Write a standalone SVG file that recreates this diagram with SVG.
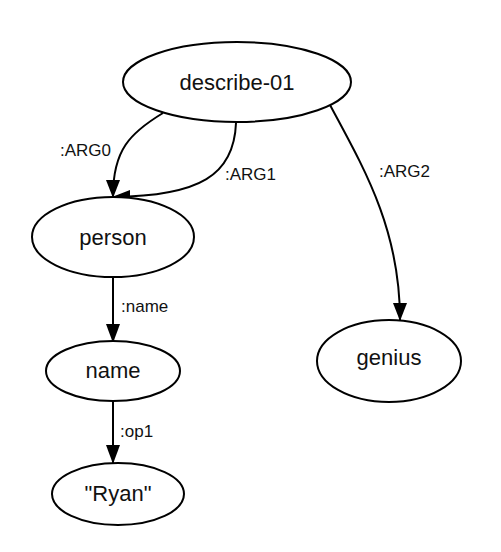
<svg xmlns="http://www.w3.org/2000/svg" width="501" height="552" viewBox="0 0 501 552">
<style>
.node ellipse{fill:#fff;stroke:#000;stroke-width:2}
.node text{font-family:"Liberation Sans",Arial,sans-serif;font-size:22px;fill:#111;text-anchor:middle}
.edges path{fill:none;stroke:#000;stroke-width:2}
.edges polygon{fill:#000}
.lbl{font-family:"Liberation Sans",Arial,sans-serif;font-size:17px;fill:#111}
</style>
<rect width="501" height="552" fill="#fff"/>
<g class="edges">
<path d="M163,113 C130,133 113,150 113,196"/>
<path d="M236,123 C234,175 200,196 113,197"/>
<path d="M330,105 C365,170 400,230 400,320"/>
<path d="M113,278 L113,342"/>
<path d="M113,401 L113,463"/>
<polygon points="113,198 106,180 120,180"/>
<polygon points="112,197 130,190 130,204"/>
<polygon points="400,321 393,303 407,303"/>
<polygon points="113,343 106,324 120,324"/>
<polygon points="113,464 106,445 120,445"/>
<text class="lbl" x="60" y="156">:ARG0</text>
<text class="lbl" x="225" y="180">:ARG1</text>
<text class="lbl" x="379" y="177">:ARG2</text>
<text class="lbl" x="121" y="312">:name</text>
<text class="lbl" x="120" y="437">:op1</text>
</g>
<g id="describe-01" class="node"><ellipse cx="237" cy="82" rx="114" ry="40"/><text x="237" y="90">describe-01</text></g>
<g id="person" class="node"><ellipse cx="113" cy="237" rx="81" ry="40"/><text x="113" y="245">person</text></g>
<g id="genius" class="node"><ellipse cx="389" cy="361" rx="72" ry="41"/><text x="389" y="365">genius</text></g>
<g id="name" class="node"><ellipse cx="113" cy="371" rx="67" ry="30"/><text x="113" y="378">name</text></g>
<g id="ryan" class="node"><ellipse cx="118" cy="494" rx="66" ry="31"/><text x="118" y="501">"Ryan"</text></g>
</svg>
